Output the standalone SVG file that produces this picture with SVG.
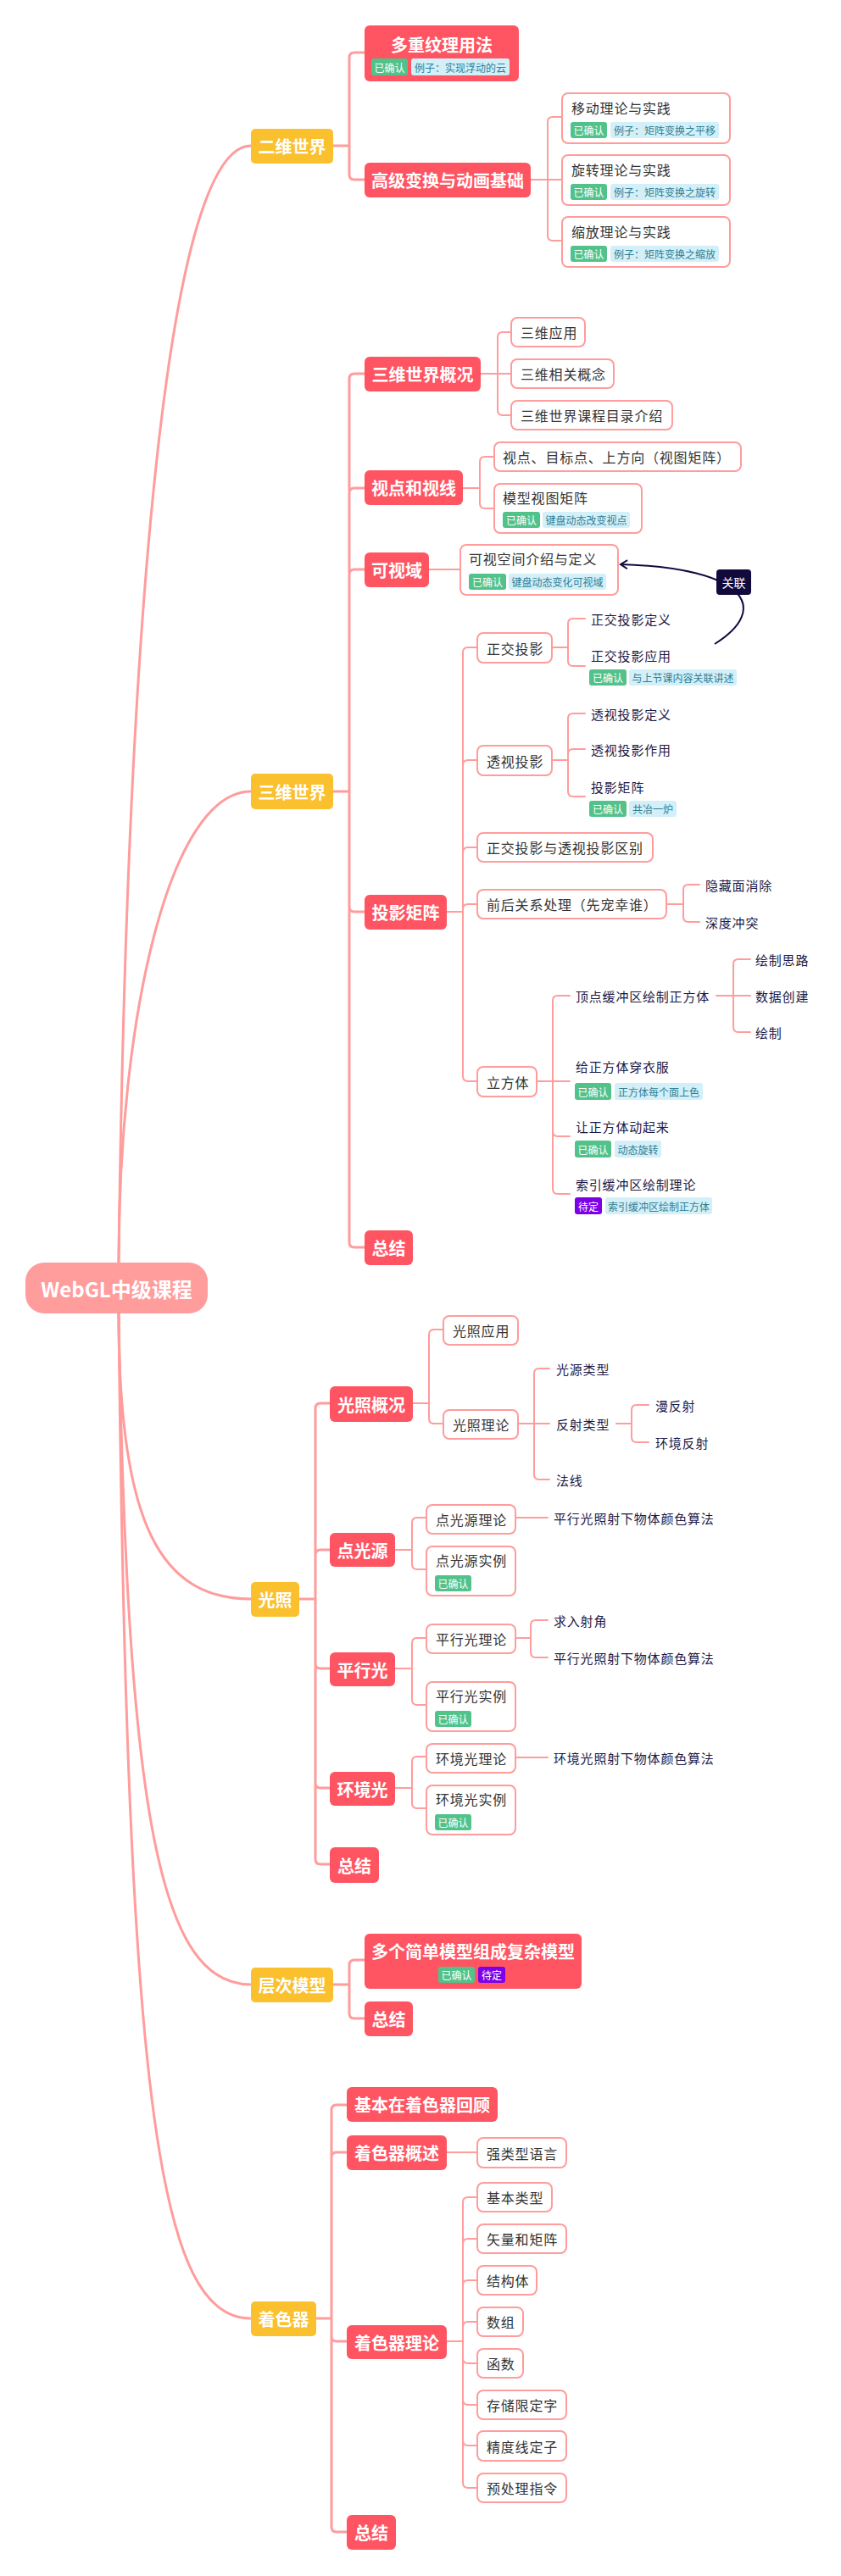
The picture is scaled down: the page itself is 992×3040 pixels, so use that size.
<svg xmlns="http://www.w3.org/2000/svg" width="992" height="3040" viewBox="0 0 992 3040">
<defs>
<style>
text{font-family:"Noto Sans CJK SC","Noto Sans",sans-serif;dominant-baseline:central}
.root{fill:#FF9C9C}
.n1{fill:#FBC02D}
.n2{fill:#FF5461}
.bx{fill:#fff;stroke:#FF9C9C;stroke-width:2}
.t0{font-size:24px;font-weight:bold;fill:#fff;text-anchor:middle}
.t1{font-size:20px;font-weight:bold;fill:#fff;text-anchor:middle}
.tb{font-size:16px;fill:#333;letter-spacing:0.8px}
.tn{font-size:15px;fill:#1D1946;letter-spacing:0.8px}
.tg{fill:#52C28B}
.tl{fill:#D3EFF8}
.tp{fill:#7B00E8}
.tt{font-size:12px;text-anchor:middle}
.tw{fill:#fff}
.tc{fill:#2F7E95}
.c1{fill:none;stroke:#FF9C9C;stroke-width:3;stroke-linecap:round}
.c2{fill:none;stroke:#FF9C9C;stroke-width:2;stroke-linecap:round}
.rel{fill:none;stroke:#100A3D;stroke-width:2}
</style>
<marker id="arr" viewBox="0 0 12 12" refX="10" refY="6" markerWidth="12" markerHeight="12" markerUnits="userSpaceOnUse" orient="auto">
<path d="M2 1 L10 6 L2 11" fill="none" stroke="#100A3D" stroke-width="2"/>
</marker>
</defs>
<rect width="992" height="3040" fill="#fff"/>

<g id="connectors">
<path class="c1" d="M140 1490 C150 700 200 172 296 172"/>
<path class="c1" d="M140 1490 C140 1200 200 934 296 934"/>
<path class="c1" d="M140 1550 C140 1800 190 1887 296 1887"/>
<path class="c1" d="M140 1550 C150 2150 190 2342 296 2342"/>
<path class="c1" d="M140 1550 C150 2500 190 2736 296 2736"/>

<path class="c1" d="M393 172 H412 M412 172 V68 Q412 62 418 62 H430 M412 172 V206 Q412 212 418 212 H430"/>
<path class="c2" d="M626 212 H663 M646 212 V144 Q646 138 652 138 H663 M646 212 V278 Q646 284 652 284 H663"/>

<path class="c1" d="M393 934 H412 M412 934 V447 Q412 441 418 441 H430 M412 934 V582 Q412 576 418 576 H430 M412 934 V678 Q412 672 418 672 H430 M412 934 V1070 Q412 1076 418 1076 H430 M412 934 V1466 Q412 1472 418 1472 H430"/>
<path class="c2" d="M567 441 H603 M587 441 V398 Q587 392 593 392 H603 M587 441 V484 Q587 490 593 490 H603"/>
<path class="c2" d="M546 576 H566 M566 576 V545 Q566 539 572 539 H583 M566 576 V594 Q566 600 572 600 H583"/>
<path class="c2" d="M506 672 H543"/>
<path class="c2" d="M527 1076 H546 M546 1076 V770 Q546 764 552 764 H563 M546 1076 V903 Q546 897 552 897 H563 M546 1076 V1006 Q546 1000 552 1000 H563 M546 1076 V1073 Q546 1067 552 1067 H563 M546 1076 V1270 Q546 1276 552 1276 H563"/>
<path class="c2" d="M651 764 H670 M670 764 V736 Q670 730 676 730 H690 M670 764 V780 Q670 786 676 786 H690"/>
<path class="c2" d="M651 897 H670 M670 897 V848 Q670 842 676 842 H690 M670 897 V890 Q670 884 676 884 H690 M670 897 V934 Q670 940 676 940 H690"/>
<path class="c2" d="M786 1067 H806 M806 1067 V1050 Q806 1044 812 1044 H825 M806 1067 V1082 Q806 1088 812 1088 H825"/>
<path class="c2" d="M633 1276 H672 M652 1276 V1181 Q652 1175 658 1175 H672 M652 1276 V1335 Q652 1341 658 1341 H672 M652 1276 V1403 Q652 1409 658 1409 H672"/>
<path class="c2" d="M845 1175 H885 M865 1175 V1138 Q865 1132 871 1132 H885 M865 1175 V1212 Q865 1218 871 1218 H885"/>

<path class="c1" d="M353 1887 H372 M372 1887 V1662 Q372 1656 378 1656 H389 M372 1887 V1835 Q372 1829 378 1829 H389 M372 1887 V1963 Q372 1969 378 1969 H389 M372 1887 V2104 Q372 2110 378 2110 H389 M372 1887 V2194 Q372 2200 378 2200 H389"/>
<path class="c2" d="M487 1656 H506 M506 1656 V1575 Q506 1569 512 1569 H523 M506 1656 V1674 Q506 1680 512 1680 H523"/>
<path class="c2" d="M611 1680 H648 M630 1680 V1621 Q630 1615 636 1615 H648 M630 1680 V1740 Q630 1746 636 1746 H648"/>
<path class="c2" d="M727 1680 H745 M745 1680 V1664 Q745 1658 751 1658 H765 M745 1680 V1696 Q745 1702 751 1702 H765"/>
<path class="c2" d="M466 1829 H486 M486 1829 V1797 Q486 1791 492 1791 H503 M486 1829 V1846 Q486 1852 492 1852 H503 M608 1791 H646"/>
<path class="c2" d="M466 1969 H486 M486 1969 V1939 Q486 1933 492 1933 H503 M486 1969 V2006 Q486 2012 492 2012 H503"/>
<path class="c2" d="M608 1933 H626 M626 1933 V1918 Q626 1912 632 1912 H646 M626 1933 V1950 Q626 1956 632 1956 H646"/>
<path class="c2" d="M466 2110 H486 M486 2110 V2079 Q486 2073 492 2073 H503 M486 2110 V2128 Q486 2134 492 2134 H503 M608 2074 H646"/>

<path class="c1" d="M393 2342 H412 M412 2342 V2319 Q412 2313 418 2313 H430 M412 2342 V2376 Q412 2382 418 2382 H430"/>

<path class="c1" d="M373 2736 H391 M391 2736 V2490 Q391 2484 397 2484 H409 M391 2736 V2546 Q391 2540 397 2540 H409 M391 2736 V2757 Q391 2763 397 2763 H409 M391 2736 V2982 Q391 2988 397 2988 H409"/>
<path class="c2" d="M527 2540 H563"/>
<path class="c2" d="M527 2763 H546 M546 2763 V2599 Q546 2593 552 2593 H563 M546 2763 V2648 Q546 2642 552 2642 H563 M546 2763 V2697 Q546 2691 552 2691 H563 M546 2763 V2746 Q546 2740 552 2740 H563 M546 2763 V2783 Q546 2789 552 2789 H563 M546 2763 V2832 Q546 2838 552 2838 H563 M546 2763 V2880 Q546 2886 552 2886 H563 M546 2763 V2930 Q546 2936 552 2936 H563"/>

<path class="rel" d="M843 760 C910 718 880 670 732 666" marker-end="url(#arr)"/>
</g>

<g id="root"><rect class="root" x="30" y="1490" width="215" height="60" rx="22"/><text class="t0" x="137.5" y="1520">WebGL中级课程</text></g>

<g id="n-2d"><rect class="n1" x="296" y="152" width="97" height="41" rx="5"/><text class="t1" x="344.5" y="172.5">二维世界</text></g>
<g id="n-3d"><rect class="n1" x="296" y="913" width="97" height="42" rx="5"/><text class="t1" x="344.5" y="934">三维世界</text></g>
<g id="n-light"><rect class="n1" x="296" y="1867" width="57" height="41" rx="5"/><text class="t1" x="324.5" y="1887.5">光照</text></g>
<g id="n-hier"><rect class="n1" x="296" y="2322" width="97" height="41" rx="5"/><text class="t1" x="344.5" y="2342.5">层次模型</text></g>
<g id="n-shader"><rect class="n1" x="296" y="2716" width="77" height="41" rx="5"/><text class="t1" x="334.5" y="2736.5">着色器</text></g>

<g id="n-multitex"><rect class="n2" x="430" y="30" width="182" height="66" rx="6"/><text class="t1" x="521" y="52">多重纹理用法</text>
<rect class="tg" x="438" y="69" width="43" height="20" rx="3"/><text class="tt tw" x="459.5" y="79">已确认</text>
<rect class="tl" x="485" y="69" width="116" height="20" rx="3"/><text class="tt tc" x="543" y="79">例子：实现浮动的云</text></g>
<g id="n-adv"><rect class="n2" x="430" y="192" width="196" height="41" rx="6"/><text class="t1" x="528" y="212.5">高级变换与动画基础</text></g>

<g id="n-move"><rect class="bx" x="663" y="110" width="198" height="59" rx="7"/><text class="tb" x="674" y="127">移动理论与实践</text>
<rect class="tg" x="673" y="144" width="43" height="19" rx="3"/><text class="tt tw" x="694.5" y="153.5">已确认</text>
<rect class="tl" x="720" y="144" width="128" height="19" rx="3"/><text class="tt tc" x="784" y="153.5">例子：矩阵变换之平移</text></g>
<g id="n-rot"><rect class="bx" x="663" y="183" width="198" height="59" rx="7"/><text class="tb" x="674" y="200">旋转理论与实践</text>
<rect class="tg" x="673" y="217" width="43" height="19" rx="3"/><text class="tt tw" x="694.5" y="226.5">已确认</text>
<rect class="tl" x="720" y="217" width="128" height="19" rx="3"/><text class="tt tc" x="784" y="226.5">例子：矩阵变换之旋转</text></g>
<g id="n-scale"><rect class="bx" x="663" y="256" width="198" height="59" rx="7"/><text class="tb" x="674" y="273">缩放理论与实践</text>
<rect class="tg" x="673" y="290" width="43" height="19" rx="3"/><text class="tt tw" x="694.5" y="299.5">已确认</text>
<rect class="tl" x="720" y="290" width="128" height="19" rx="3"/><text class="tt tc" x="784" y="299.5">例子：矩阵变换之缩放</text></g>

<g id="n-3dover"><rect class="n2" x="430" y="421" width="137" height="41" rx="6"/><text class="t1" x="498.5" y="441.5">三维世界概况</text></g>
<g id="n-3dapp"><rect class="bx" x="603" y="375" width="87" height="34" rx="7"/><text class="tb" x="614" y="392">三维应用</text></g>
<g id="n-3dcon"><rect class="bx" x="603" y="424" width="121" height="34" rx="7"/><text class="tb" x="614" y="441">三维相关概念</text></g>
<g id="n-3dcat"><rect class="bx" x="603" y="473" width="190" height="34" rx="7"/><text class="tb" x="614" y="490">三维世界课程目录介绍</text></g>

<g id="n-view"><rect class="n2" x="430" y="555" width="116" height="41" rx="6"/><text class="t1" x="488" y="575.5">视点和视线</text></g>
<g id="n-viewmat"><rect class="bx" x="583" y="522" width="291" height="34" rx="7"/><text class="tb" x="593" y="539">视点、目标点、上方向（视图矩阵）</text></g>
<g id="n-mvmat"><rect class="bx" x="583" y="571" width="174" height="58" rx="7"/><text class="tb" x="593" y="587">模型视图矩阵</text>
<rect class="tg" x="593" y="604" width="44" height="19" rx="3"/><text class="tt tw" x="615" y="613.5">已确认</text>
<rect class="tl" x="640" y="604" width="103" height="19" rx="3"/><text class="tt tc" x="691.5" y="613.5">键盘动态改变视点</text></g>

<g id="n-frustum"><rect class="n2" x="430" y="652" width="76" height="41" rx="6"/><text class="t1" x="468" y="672.5">可视域</text></g>
<g id="n-frudef"><rect class="bx" x="543" y="643" width="186" height="59" rx="7"/><text class="tb" x="553" y="659">可视空间介绍与定义</text>
<rect class="tg" x="553" y="677" width="44" height="19" rx="3"/><text class="tt tw" x="575" y="686.5">已确认</text>
<rect class="tl" x="600" y="677" width="115" height="19" rx="3"/><text class="tt tc" x="657.5" y="686.5">键盘动态变化可视域</text></g>

<g id="n-proj"><rect class="n2" x="430" y="1056" width="97" height="41" rx="6"/><text class="t1" x="478.5" y="1076.5">投影矩阵</text></g>
<g id="n-ortho"><rect class="bx" x="563" y="747" width="88" height="35" rx="7"/><text class="tb" x="574" y="764.5">正交投影</text></g>
<g id="n-orthodef"><text class="tn" x="697" y="730">正交投影定义</text></g>
<g id="n-orthoapp"><text class="tn" x="697" y="773">正交投影应用</text>
<rect class="tg" x="695" y="790" width="44" height="19" rx="3"/><text class="tt tw" x="717" y="799.5">已确认</text>
<rect class="tl" x="742" y="790" width="127" height="19" rx="3"/><text class="tt tc" x="805.5" y="799.5">与上节课内容关联讲述</text></g>
<g id="n-persp"><rect class="bx" x="563" y="880" width="88" height="35" rx="7"/><text class="tb" x="574" y="897.5">透视投影</text></g>
<g id="n-perspdef"><text class="tn" x="697" y="842">透视投影定义</text></g>
<g id="n-perspuse"><text class="tn" x="697" y="884">透视投影作用</text></g>
<g id="n-projmat"><text class="tn" x="697" y="928">投影矩阵</text>
<rect class="tg" x="695" y="945" width="44" height="19" rx="3"/><text class="tt tw" x="717" y="954.5">已确认</text>
<rect class="tl" x="742" y="945" width="56" height="19" rx="3"/><text class="tt tc" x="770" y="954.5">共冶一炉</text></g>
<g id="n-diff"><rect class="bx" x="563" y="983" width="207" height="34" rx="7"/><text class="tb" x="574" y="1000">正交投影与透视投影区别</text></g>
<g id="n-depth"><rect class="bx" x="563" y="1050" width="223" height="34" rx="7"/><text class="tb" x="574" y="1067">前后关系处理（先宠幸谁）</text></g>
<g id="n-hidden"><text class="tn" x="832" y="1044">隐藏面消除</text></g>
<g id="n-zfight"><text class="tn" x="832" y="1088">深度冲突</text></g>
<g id="n-cube"><rect class="bx" x="563" y="1259" width="70" height="35" rx="7"/><text class="tb" x="574" y="1276.5">立方体</text></g>
<g id="n-vbo"><text class="tn" x="679" y="1175">顶点缓冲区绘制正方体</text></g>
<g id="n-idea"><text class="tn" x="891" y="1132">绘制思路</text></g>
<g id="n-data"><text class="tn" x="891" y="1175">数据创建</text></g>
<g id="n-draw"><text class="tn" x="891" y="1218">绘制</text></g>
<g id="n-color"><text class="tn" x="679" y="1258">给正方体穿衣服</text>
<rect class="tg" x="678" y="1278" width="43" height="20" rx="3"/><text class="tt tw" x="699.5" y="1288">已确认</text>
<rect class="tl" x="725" y="1278" width="104" height="20" rx="3"/><text class="tt tc" x="777" y="1288">正方体每个面上色</text></g>
<g id="n-anim"><text class="tn" x="679" y="1329">让正方体动起来</text>
<rect class="tg" x="678" y="1346" width="43" height="20" rx="3"/><text class="tt tw" x="699.5" y="1356">已确认</text>
<rect class="tl" x="725" y="1346" width="55" height="20" rx="3"/><text class="tt tc" x="752.5" y="1356">动态旋转</text></g>
<g id="n-ibo"><text class="tn" x="679" y="1397">索引缓冲区绘制理论</text>
<rect class="tp" x="678" y="1413" width="32" height="20" rx="3"/><text class="tt tw" x="694" y="1423">待定</text>
<rect class="tl" x="714" y="1413" width="126" height="20" rx="3"/><text class="tt tc" x="777" y="1423">索引缓冲区绘制正方体</text></g>
<g id="n-sum3d"><rect class="n2" x="430" y="1452" width="57" height="41" rx="6"/><text class="t1" x="458.5" y="1472.5">总结</text></g>

<g id="n-relation"><rect x="845" y="672" width="41" height="30" rx="4" fill="#100A3D"/><text x="865.5" y="687" font-size="14" fill="#fff" text-anchor="middle">关联</text></g>

<g id="n-lightover"><rect class="n2" x="389" y="1636" width="98" height="42" rx="6"/><text class="t1" x="438" y="1657">光照概况</text></g>
<g id="n-lightapp"><rect class="bx" x="523" y="1553" width="88" height="34" rx="7"/><text class="tb" x="534" y="1570">光照应用</text></g>
<g id="n-lighttheory"><rect class="bx" x="523" y="1664" width="88" height="34" rx="7"/><text class="tb" x="534" y="1681">光照理论</text></g>
<g id="n-srctype"><text class="tn" x="656" y="1615">光源类型</text></g>
<g id="n-reftype"><text class="tn" x="656" y="1680">反射类型</text></g>
<g id="n-normal"><text class="tn" x="656" y="1746">法线</text></g>
<g id="n-diffuse"><text class="tn" x="773" y="1658">漫反射</text></g>
<g id="n-ambref"><text class="tn" x="773" y="1702">环境反射</text></g>

<g id="n-point"><rect class="n2" x="389" y="1809" width="77" height="40" rx="6"/><text class="t1" x="427.5" y="1829">点光源</text></g>
<g id="n-pointtheory"><rect class="bx" x="503" y="1776" width="105" height="34" rx="7"/><text class="tb" x="514" y="1793">点光源理论</text></g>
<g id="n-pointalg"><text class="tn" x="653" y="1791">平行光照射下物体颜色算法</text></g>
<g id="n-pointex"><rect class="bx" x="503" y="1825" width="105" height="58" rx="7"/><text class="tb" x="514" y="1841">点光源实例</text>
<rect class="tg" x="513" y="1859" width="43" height="19" rx="3"/><text class="tt tw" x="534.5" y="1868.5">已确认</text></g>

<g id="n-dir"><rect class="n2" x="389" y="1950" width="77" height="40" rx="6"/><text class="t1" x="427.5" y="1970">平行光</text></g>
<g id="n-dirtheory"><rect class="bx" x="503" y="1917" width="105" height="34" rx="7"/><text class="tb" x="514" y="1934">平行光理论</text></g>
<g id="n-incid"><text class="tn" x="653" y="1912">求入射角</text></g>
<g id="n-diralg"><text class="tn" x="653" y="1956">平行光照射下物体颜色算法</text></g>
<g id="n-direx"><rect class="bx" x="503" y="1985" width="105" height="58" rx="7"/><text class="tb" x="514" y="2001">平行光实例</text>
<rect class="tg" x="513" y="2019" width="43" height="19" rx="3"/><text class="tt tw" x="534.5" y="2028.5">已确认</text></g>

<g id="n-amb"><rect class="n2" x="389" y="2091" width="77" height="40" rx="6"/><text class="t1" x="427.5" y="2111">环境光</text></g>
<g id="n-ambtheory"><rect class="bx" x="503" y="2058" width="105" height="34" rx="7"/><text class="tb" x="514" y="2075">环境光理论</text></g>
<g id="n-ambalg"><text class="tn" x="653" y="2074">环境光照射下物体颜色算法</text></g>
<g id="n-ambex"><rect class="bx" x="503" y="2107" width="105" height="58" rx="7"/><text class="tb" x="514" y="2123">环境光实例</text>
<rect class="tg" x="513" y="2141" width="43" height="19" rx="3"/><text class="tt tw" x="534.5" y="2150.5">已确认</text></g>
<g id="n-sumlight"><rect class="n2" x="389" y="2180" width="58" height="42" rx="6"/><text class="t1" x="418" y="2201">总结</text></g>

<g id="n-combo"><rect class="n2" x="430" y="2282" width="256" height="65" rx="6"/><text class="t1" x="558" y="2302">多个简单模型组成复杂模型</text>
<rect class="tg" x="517" y="2321" width="43" height="19" rx="3"/><text class="tt tw" x="538.5" y="2330.5">已确认</text>
<rect class="tp" x="564" y="2321" width="32" height="19" rx="3"/><text class="tt tw" x="580" y="2330.5">待定</text></g>
<g id="n-sumhier"><rect class="n2" x="430" y="2362" width="57" height="41" rx="6"/><text class="t1" x="458.5" y="2382.5">总结</text></g>

<g id="n-review"><rect class="n2" x="409" y="2463" width="178" height="41" rx="6"/><text class="t1" x="498" y="2483.5">基本在着色器回顾</text></g>
<g id="n-shover"><rect class="n2" x="409" y="2520" width="118" height="41" rx="6"/><text class="t1" x="468" y="2540.5">着色器概述</text></g>
<g id="n-strong"><rect class="bx" x="563" y="2523" width="105" height="35" rx="7"/><text class="tb" x="574" y="2540.5">强类型语言</text></g>
<g id="n-shtheory"><rect class="n2" x="409" y="2744" width="118" height="40" rx="6"/><text class="t1" x="468" y="2764">着色器理论</text></g>
<g id="n-basic"><rect class="bx" x="563" y="2576" width="88" height="34" rx="7"/><text class="tb" x="574" y="2593">基本类型</text></g>
<g id="n-vec"><rect class="bx" x="563" y="2625" width="105" height="34" rx="7"/><text class="tb" x="574" y="2642">矢量和矩阵</text></g>
<g id="n-struct"><rect class="bx" x="563" y="2674" width="70" height="34" rx="7"/><text class="tb" x="574" y="2691">结构体</text></g>
<g id="n-array"><rect class="bx" x="563" y="2723" width="54" height="34" rx="7"/><text class="tb" x="574" y="2740">数组</text></g>
<g id="n-func"><rect class="bx" x="563" y="2772" width="54" height="34" rx="7"/><text class="tb" x="574" y="2789">函数</text></g>
<g id="n-storage"><rect class="bx" x="563" y="2821" width="105" height="34" rx="7"/><text class="tb" x="574" y="2838">存储限定字</text></g>
<g id="n-prec"><rect class="bx" x="563" y="2869" width="105" height="35" rx="7"/><text class="tb" x="574" y="2886.5">精度线定子</text></g>
<g id="n-pre"><rect class="bx" x="563" y="2919" width="105" height="34" rx="7"/><text class="tb" x="574" y="2936">预处理指令</text></g>
<g id="n-sumsh"><rect class="n2" x="409" y="2968" width="58" height="41" rx="6"/><text class="t1" x="438" y="2988.5">总结</text></g>
</svg>
